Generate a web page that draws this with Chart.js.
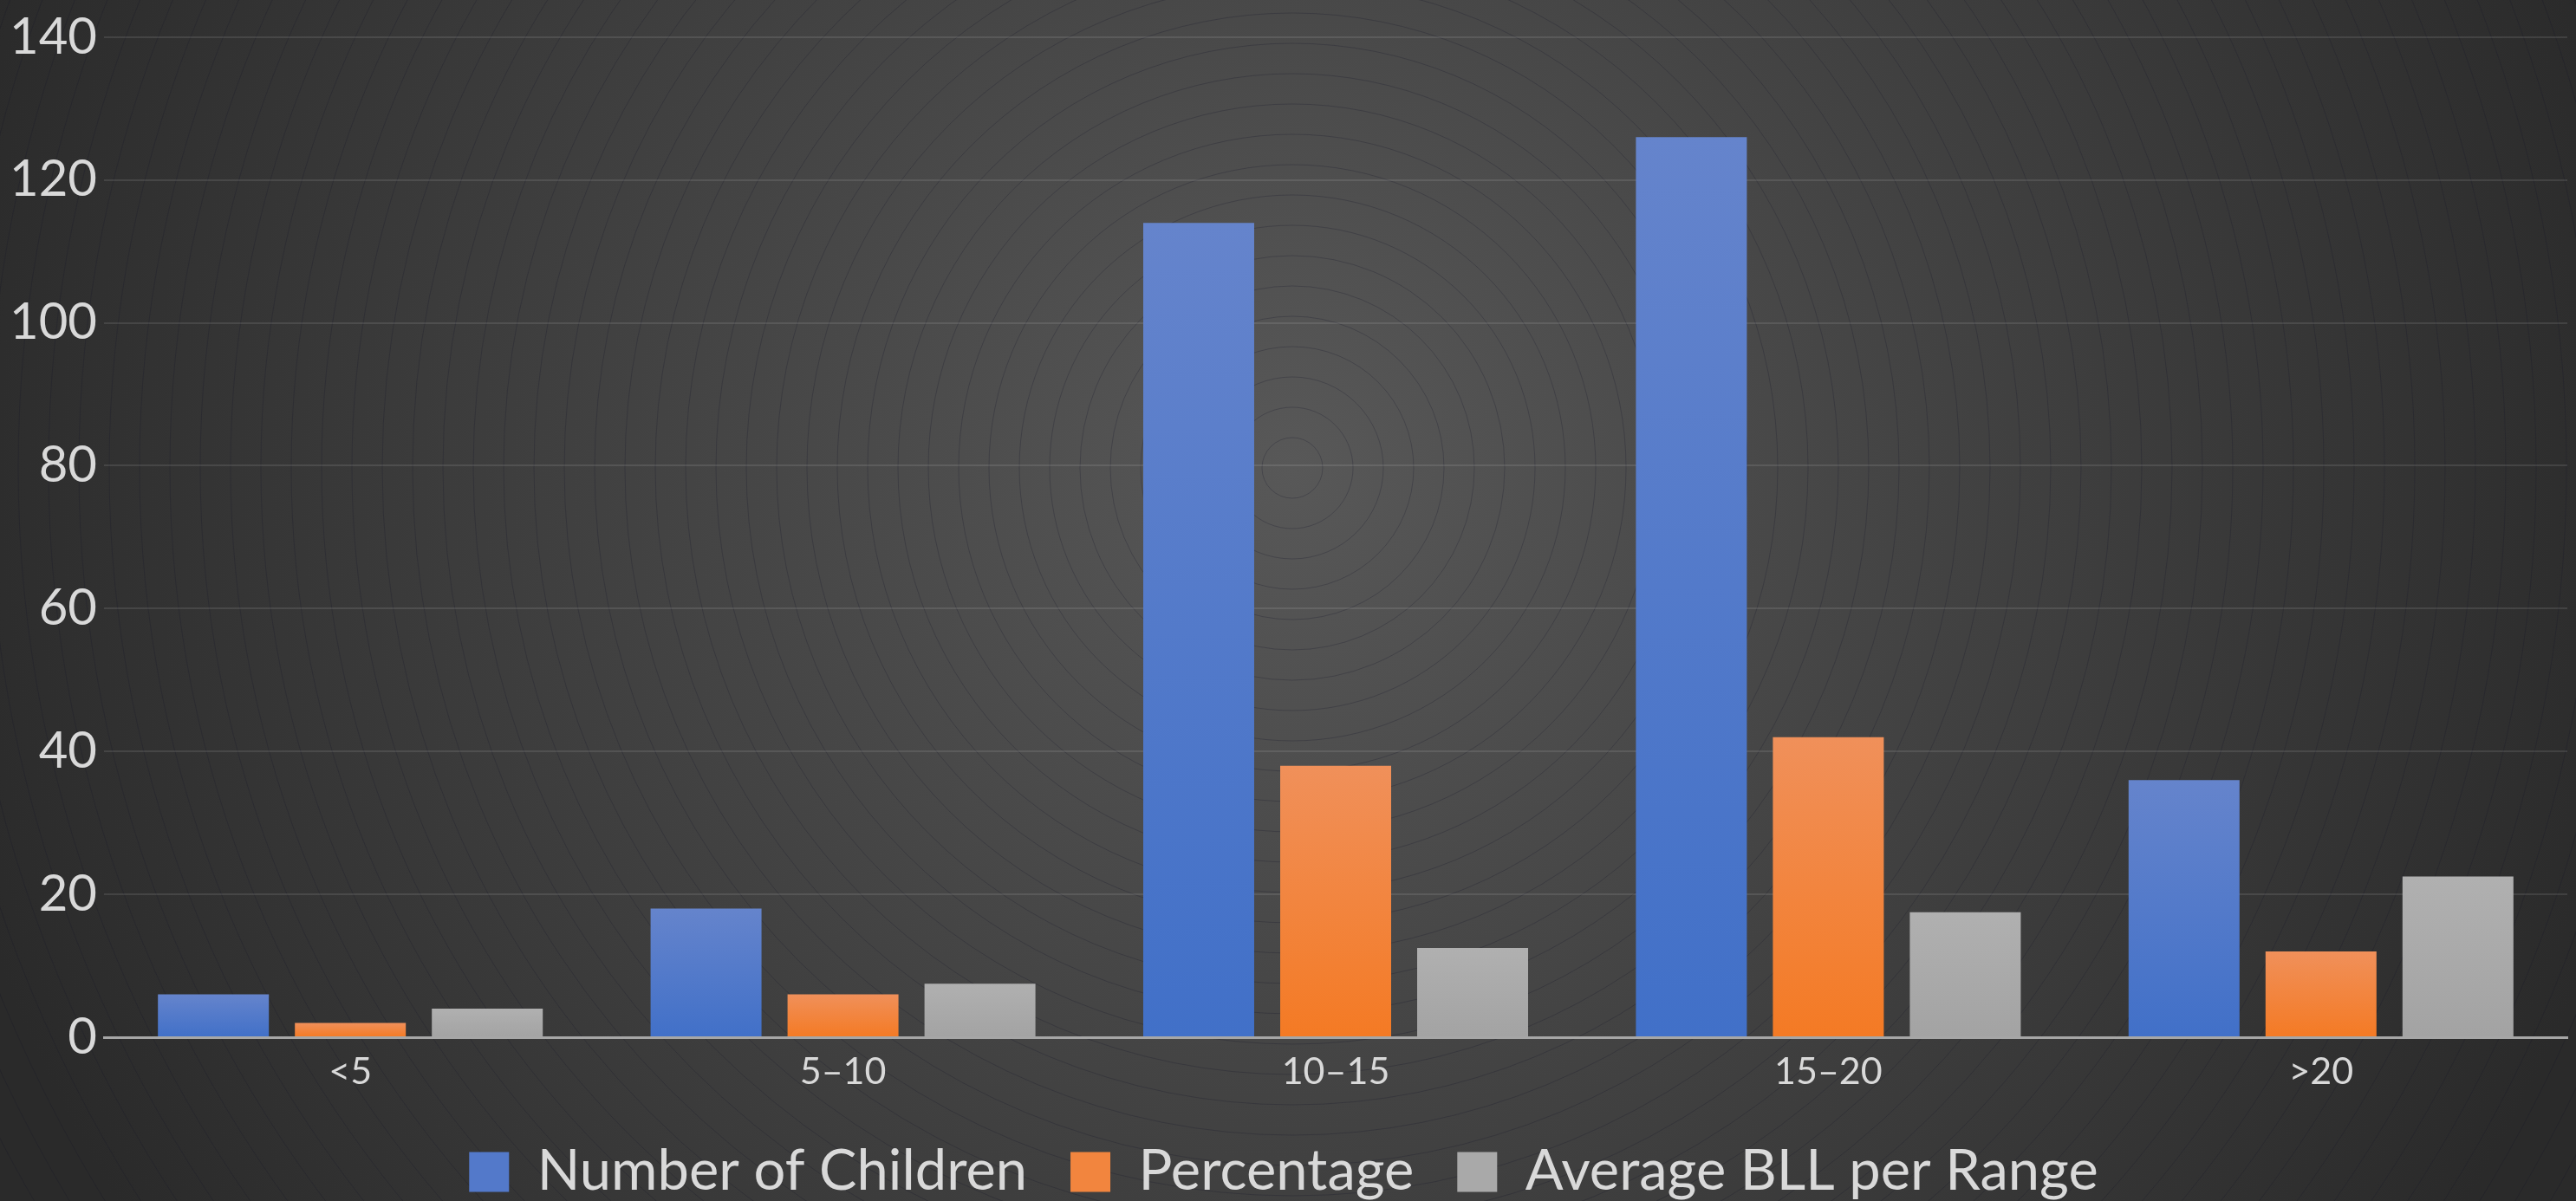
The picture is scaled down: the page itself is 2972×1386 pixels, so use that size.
<!DOCTYPE html>
<html>
<head>
<meta charset="utf-8">
<script src="https://cdn.jsdelivr.net/npm/chart.js@4.4.1/dist/chart.umd.min.js"></script>
<style>
  html, body { margin: 0; padding: 0; background: #2c2c2c; }
  canvas { display: block; }
</style>
</head>
<body>
<canvas id="barChart" width="2972" height="1386"></canvas>
<script>
const categories = ['<5', '5–10', '10–15', '15–20', '>20'];
const numberOfChildren = [6, 18, 114, 126, 36];
const percentage = [2, 6, 38, 42, 12];
const averageBll = [4, 7.5, 12.5, 17.5, 22.5];
const yTicks = [0, 20, 40, 60, 80, 100, 120, 140];

const textColor = '#d9d9d9';
const fontName = 'Lato, "Open Sans", sans-serif';

// vertical gradient inside every bar, lighter at the top
function barFill(top, bottom) {
  return function (c) {
    const chart = c.chart;
    const y = chart.scales.y;
    if (c.type !== 'data' || !y || !chart.chartArea) return bottom;
    const yTop = y.getPixelForValue(c.raw);
    const yBase = y.getPixelForValue(0);
    if (!isFinite(yTop) || yBase - yTop < 1) return bottom;
    const g = chart.ctx.createLinearGradient(0, yTop, 0, yBase);
    g.addColorStop(0, top);
    g.addColorStop(1, bottom);
    return g;
  };
}

const background = {
  id: 'background',
  beforeDraw(chart) {
    const ctx = chart.ctx;
    const w = chart.width, h = chart.height;
    const cx = 1491, cy = 540;
    ctx.save();
    const g = ctx.createRadialGradient(cx, cy, 0, cx, cy, 1600);
    g.addColorStop(0, '#585858');
    g.addColorStop(1, '#2a2a2a');
    ctx.fillStyle = g;
    ctx.fillRect(0, 0, w, h);
    ctx.strokeStyle = 'rgba(20, 20, 40, 0.25)';
    ctx.lineWidth = 1;
    for (let r = 35; r < 1800; r += 35) {
      ctx.beginPath();
      ctx.arc(cx, cy, r, 0, Math.PI * 2);
      ctx.stroke();
    }
    ctx.restore();
  },
  afterLayout(chart) {
    // nudge the legend down a little to sit where the original one is
    chart.legend.top += 9;
    chart.legend.bottom += 9;
  }
};

const chart = new Chart(document.getElementById('barChart').getContext('2d'), {
  type: 'bar',
  data: {
    labels: categories,
    datasets: [
      {
        label: 'Number of Children',
        data: numberOfChildren,
        backgroundColor: barFill('#6584cc', '#4170c8')
      },
      {
        label: 'Percentage',
        data: percentage,
        backgroundColor: barFill('#f0905a', '#f47a24')
      },
      {
        label: 'Average BLL per Range',
        data: averageBll,
        backgroundColor: barFill('#b0b0b0', '#a3a3a3')
      }
    ]
  },
  options: {
    responsive: false,
    animation: false,
    devicePixelRatio: 1,
    categoryPercentage: 0.834,
    barPercentage: 0.81,
    layout: {
      padding: { top: 38, right: 10, left: 0, bottom: 0 }
    },
    plugins: {
      tooltip: { enabled: false },
      legend: {
        position: 'bottom',
        labels: {
          color: textColor,
          font: { family: fontName, size: 65 },
          boxWidth: 46,
          boxHeight: 46,
          padding: 50,
          generateLabels(chart) {
            const fills = ['#5379ca', '#f2853e', '#a9a9a9'];
            return chart.data.datasets.map((ds, i) => ({
              text: ds.label,
              fillStyle: fills[i],
              strokeStyle: fills[i],
              lineWidth: 0,
              fontColor: textColor,
              datasetIndex: i
            }));
          }
        }
      }
    },
    scales: {
      x: {
        grid: { display: false },
        border: { display: true, color: '#a6a6a6', width: 3 },
        ticks: {
          color: textColor,
          font: { family: fontName, size: 43 },
          padding: 6
        },
        afterFit(scale) { scale.height = 64; }
      },
      y: {
        min: 0,
        max: 140,
        afterBuildTicks(scale) {
          scale.ticks = yTicks.map(v => ({ value: v }));
        },
        grid: {
          color: 'rgba(255, 255, 255, 0.1)',
          lineWidth: 2,
          drawTicks: false
        },
        border: { display: false },
        ticks: {
          color: textColor,
          font: { family: fontName, size: 58 },
          padding: 8
        },
        afterFit(scale) { scale.width = 120; }
      }
    }
  },
  plugins: [background]
});
</script>
</body>
</html>
